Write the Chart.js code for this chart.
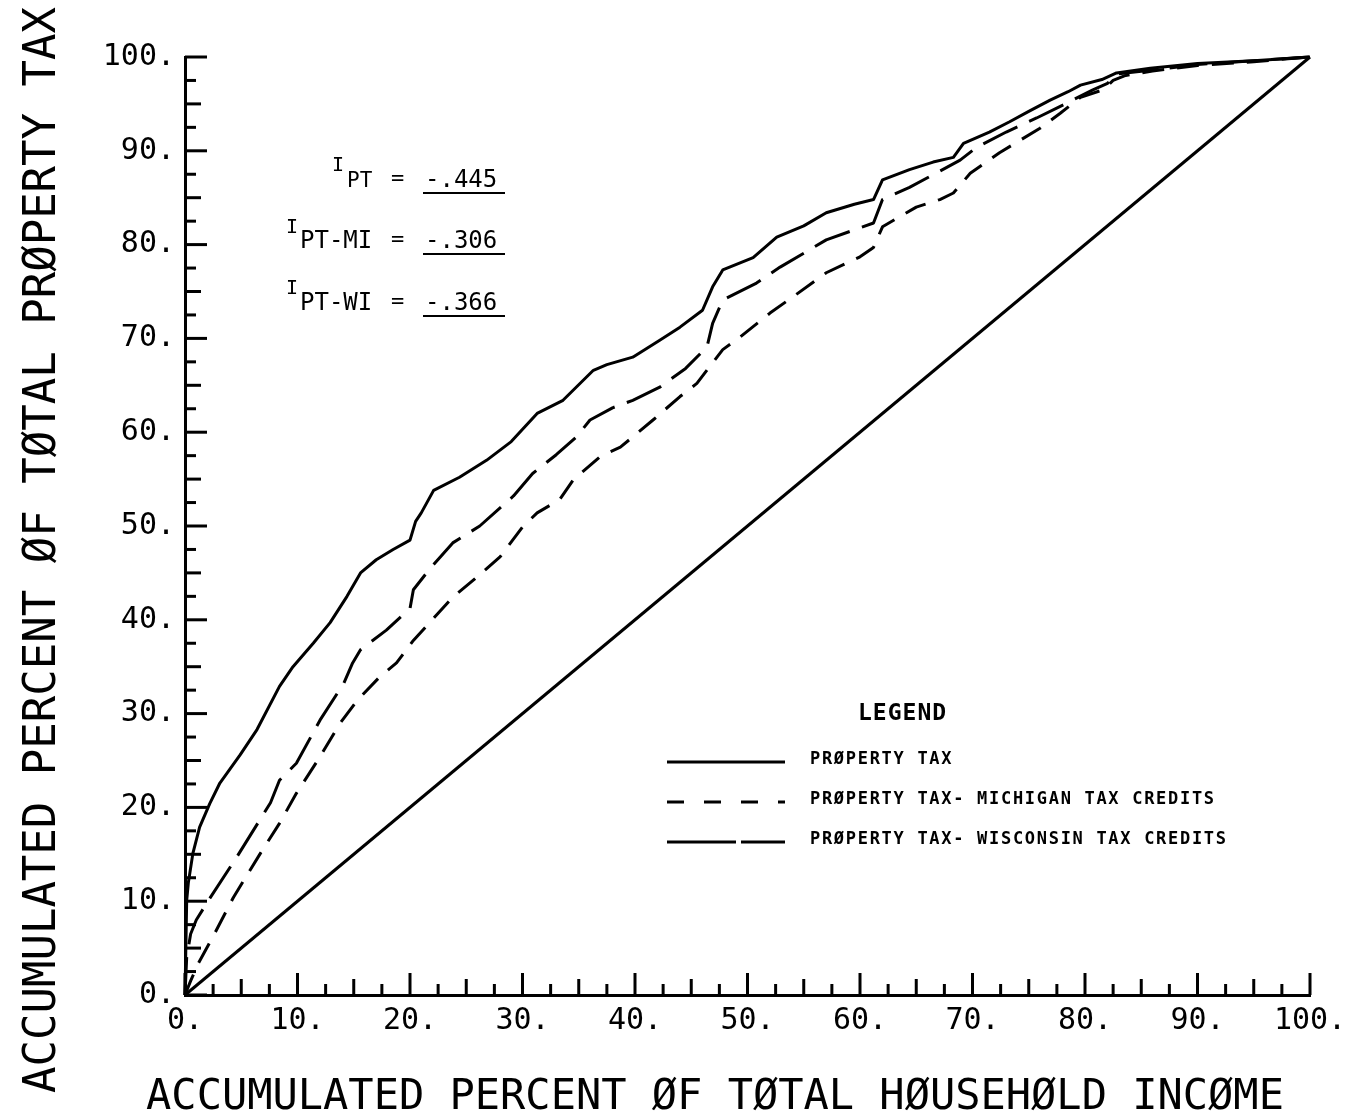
<!DOCTYPE html>
<html>
<head>
<meta charset="utf-8">
<script src="https://cdn.jsdelivr.net/npm/chart.js@4.4.0/dist/chart.umd.min.js"></script>
<style>
  html, body { margin: 0; padding: 0; background: #fff; }
  canvas { display: block; }
</style>
</head>
<body>
<canvas id="Chart" width="1357" height="1114"></canvas>
<script>
// accumulated percent of household income (x) / of property tax (y)
const ptIncome = [0, 0.15, 0.3, 0.7, 1.3, 2.2, 3.1, 4.9, 6.4, 8.4, 9.6, 11.4, 12.9, 14.4, 15.6, 17, 18.5, 20, 20.5, 21, 22.1, 24.4, 26.8, 29, 31.3, 33.6, 36.3, 37.5, 39.8, 42.2, 44, 46, 46.9, 47.8, 50.5, 52.6, 55, 57, 59.5, 61.2, 62, 64.4, 66.5, 68.3, 69.2, 71.5, 73.3, 75, 76.9, 78.5, 79.6, 81.5, 82.8, 85.8, 90, 95, 100];
const ptTax = [0, 10.1, 12, 15.1, 17.9, 20.4, 22.6, 25.6, 28.3, 32.9, 35, 37.5, 39.7, 42.5, 45, 46.4, 47.5, 48.5, 50.5, 51.4, 53.8, 55.2, 57, 59, 62, 63.4, 66.6, 67.2, 68, 69.8, 71.2, 73, 75.5, 77.3, 78.6, 80.8, 82, 83.4, 84.3, 84.8, 86.9, 88, 88.8, 89.3, 90.8, 92, 93.1, 94.2, 95.4, 96.3, 97, 97.6, 98.3, 98.8, 99.3, 99.6, 100];

const wiIncome = [0, 0.15, 0.5, 1, 2.2, 4.6, 7.6, 8.4, 9.9, 12, 14.1, 14.9, 15.6, 17.9, 20, 20.3, 21.8, 23.8, 26.2, 29.2, 30.9, 33, 34.8, 36, 38, 39.8, 42.2, 44.5, 46.4, 46.9, 47.8, 50.8, 52.9, 57, 61.2, 62, 64.4, 68.9, 70.4, 73, 75.7, 78.4, 80.7, 82, 83, 86, 90, 95, 100];
const wiTax = [0, 4, 6.5, 8, 10.3, 14.7, 20.5, 22.9, 24.7, 29.3, 33.2, 35.4, 36.8, 38.9, 41.2, 43.2, 45.5, 48.2, 50, 53.2, 55.6, 57.6, 59.5, 61.3, 62.6, 63.4, 64.8, 66.8, 69.1, 71.6, 74.1, 75.9, 77.6, 80.5, 82.3, 84.8, 86.1, 89, 90.4, 92, 93.5, 95.1, 96.5, 97.2, 98.2, 98.6, 99.2, 99.6, 100];

const miIncome = [0, 0.5, 1.2, 2.7, 4.3, 6.7, 8.4, 9.9, 12, 13.8, 15.3, 17.3, 18.8, 20.3, 22.5, 23.8, 25.6, 28, 30, 31.3, 33.3, 34.5, 36.9, 38.7, 40.2, 41.6, 44, 45.5, 46.9, 47.8, 49.3, 52, 54, 57, 60, 61.2, 62, 65, 67.1, 68.3, 69.8, 72.4, 76, 77.8, 79.6, 81.6, 82.5, 83.5, 86, 90, 95, 100];
const miTax = [0, 1.5, 3.4, 6.7, 10.4, 15.1, 18.3, 21.5, 25.4, 29, 31.4, 33.9, 35.4, 37.8, 40.7, 42.4, 44.2, 46.7, 49.9, 51.4, 52.8, 54.9, 57.4, 58.4, 59.9, 61.3, 63.8, 65.2, 67.4, 68.8, 70.1, 72.7, 74.4, 77, 78.7, 79.7, 81.9, 84, 84.8, 85.5, 87.6, 89.8, 92.4, 94, 95.7, 96.5, 97.5, 98, 98.5, 99.1, 99.5, 100];

const equalLine = [0, 100];

const tickLabels = ['0.', '10.', '20.', '30.', '40.', '50.', '60.', '70.', '80.', '90.', '100.'];

const indexNames = ['PT', 'PT-MI', 'PT-WI'];
const indexValues = ['-.445', '-.306', '-.366'];

const legendTitle = 'LEGEND';
const legendNames = ['PRØPERTY TAX', 'PRØPERTY TAX- MICHIGAN TAX CREDITS', 'PRØPERTY TAX- WISCONSIN TAX CREDITS'];

const xTitle = 'ACCUMULATED PERCENT ØF TØTAL HØUSEHØLD INCØME';
const yTitle = 'ACCUMULATED PERCENT ØF TØTAL PRØPERTY TAX';

function pairs(xs, ys) {
    return xs.map((x, i) => ({ x: x, y: ys[i] }));
}

function tickText(value) {
    if (value % 10 !== 0) return '';
    return tickLabels[value / 10];
}

const MONO = '"DejaVu Sans Mono", "Liberation Mono", monospace';

// walk the polyline and emit each dash as its own subpath
function strokeDashed(ctx, pts, pattern) {
    let k = 0, left = pattern[0], on = true;
    ctx.beginPath();
    ctx.moveTo(pts[0].x, pts[0].y);
    for (let i = 1; i < pts.length; i++) {
        const a = pts[i - 1], b = pts[i];
        const len = Math.hypot(b.x - a.x, b.y - a.y);
        let t = 0;
        while (len - t > left) {
            t += left;
            const px = a.x + (b.x - a.x) * t / len, py = a.y + (b.y - a.y) * t / len;
            if (on) ctx.lineTo(px, py); else ctx.moveTo(px, py);
            on = !on;
            k = (k + 1) % pattern.length;
            left = pattern[k];
        }
        left -= len - t;
        if (on) ctx.lineTo(b.x, b.y); else ctx.moveTo(b.x, b.y);
    }
    ctx.stroke();
}

const dashedCurves = {
    id: 'dashedCurves',
    afterDatasetsDraw(chart) {
        const ctx = chart.ctx;
        chart.data.datasets.forEach((ds, i) => {
            if (!ds.dashPattern) return;
            const pts = chart.getDatasetMeta(i).data;
            ctx.save();
            ctx.strokeStyle = '#000';
            ctx.lineWidth = 3;
            ctx.lineJoin = 'round';
            ctx.lineCap = 'butt';
            ctx.setLineDash([]);
            strokeDashed(ctx, pts, ds.dashPattern);
            ctx.restore();
        });
    }
};

const decor = {
    id: 'decor',
    afterDraw(chart) {
        const ctx = chart.ctx;
        const xs = chart.scales.x, ys = chart.scales.y;
        ctx.save();
        ctx.strokeStyle = '#000';
        ctx.fillStyle = '#000';
        ctx.lineWidth = 3;
        ctx.lineCap = 'butt';

        // inward tick marks
        function len(v) { return v % 10 === 0 ? 22 : (v % 5 === 0 ? 16 : 11); }
        ys.ticks.forEach(t => {
            const py = ys.getPixelForValue(t.value);
            ctx.beginPath();
            ctx.moveTo(xs.left, py);
            ctx.lineTo(xs.left + len(t.value), py);
            ctx.stroke();
        });
        xs.ticks.forEach(t => {
            const px = xs.getPixelForValue(t.value);
            ctx.beginPath();
            ctx.moveTo(px, ys.bottom);
            ctx.lineTo(px, ys.bottom - len(t.value));
            ctx.stroke();
        });

        // axis titles
        ctx.font = '42px ' + MONO;
        ctx.textAlign = 'center';
        ctx.textBaseline = 'alphabetic';
        ctx.fillText(xTitle, 715, 1109);
        ctx.save();
        ctx.translate(55, 550);
        ctx.rotate(-Math.PI / 2);
        ctx.font = '44px ' + MONO;
        ctx.fillText(yTitle, 0, 0);
        ctx.restore();

        // index values
        const rows = [
            { ix: 332, iy: 171, sx: 347, sub: 21, base: 187 },
            { ix: 286, iy: 233, sx: 300, sub: 24, base: 248 },
            { ix: 286, iy: 294, sx: 300, sub: 24, base: 310 }
        ];
        ctx.textAlign = 'left';
        rows.forEach((r, i) => {
            ctx.font = '20px ' + MONO;
            ctx.fillText('I', r.ix, r.iy);
            ctx.font = r.sub + 'px ' + MONO;
            ctx.fillText(indexNames[i], r.sx, r.base);
            ctx.font = '22px ' + MONO;
            ctx.fillText('=', 391, r.base - 2);
            ctx.font = '24px ' + MONO;
            ctx.fillText(indexValues[i], 425, r.base);
            ctx.lineWidth = 2;
            ctx.beginPath();
            ctx.moveTo(423, r.base + 6);
            ctx.lineTo(505, r.base + 6);
            ctx.stroke();
        });

        // legend
        ctx.textBaseline = 'middle';
        ctx.font = 'bold 23px ' + MONO;
        ctx.letterSpacing = '1px';
        ctx.fillText(legendTitle, 858, 714);
        ctx.font = 'bold 17px ' + MONO;
        ctx.letterSpacing = '1.7px';
        const dashes = [[], [17, 20], [69, 5]];
        const rowY = [760, 800, 840];
        legendNames.forEach((name, i) => {
            ctx.lineWidth = 3;
            ctx.setLineDash(dashes[i]);
            ctx.beginPath();
            ctx.moveTo(667, rowY[i] + 2);
            ctx.lineTo(785, rowY[i] + 2);
            ctx.stroke();
            ctx.setLineDash([]);
            ctx.fillText(name, 810, rowY[i]);
        });
        ctx.restore();
    }
};

const line = (data, dash) => ({
    data: data,
    showLine: !dash,
    dashPattern: dash,
    borderColor: '#000',
    borderWidth: 3,
    borderJoinStyle: 'round',
    pointRadius: 0,
    tension: 0,
    clip: 6
});

new Chart(document.getElementById('Chart').getContext('2d'), {
    type: 'scatter',
    data: {
        datasets: [
            line(pairs(equalLine, equalLine), null),
            line(pairs(ptIncome, ptTax), null),
            line(pairs(wiIncome, wiTax), [38, 13]),
            line(pairs(miIncome, miTax), [22, 13])
        ]
    },
    options: {
        responsive: false,
        animation: false,
        events: [],
        layout: { padding: { left: 0, right: 47, top: 57, bottom: 0 } },
        plugins: { legend: { display: false }, tooltip: { enabled: false } },
        scales: {
            x: {
                type: 'linear', min: 0, max: 100,
                grid: { display: false, drawTicks: false },
                border: { display: true, color: '#000', width: 3 },
                ticks: {
                    stepSize: 2.5, autoSkip: false, maxRotation: 0, padding: 8,
                    color: '#000', font: { family: MONO, size: 30 },
                    callback: tickText
                },
                afterFit: s => { s.height = 119; }
            },
            y: {
                type: 'linear', min: 0, max: 100,
                grid: { display: false, drawTicks: false },
                border: { display: true, color: '#000', width: 3 },
                ticks: {
                    stepSize: 2.5, autoSkip: false, padding: 10,
                    color: '#000', font: { family: MONO, size: 30 },
                    callback: tickText
                },
                afterFit: s => { s.width = 185; }
            }
        }
    },
    plugins: [dashedCurves, decor]
});
</script>
</body>
</html>
